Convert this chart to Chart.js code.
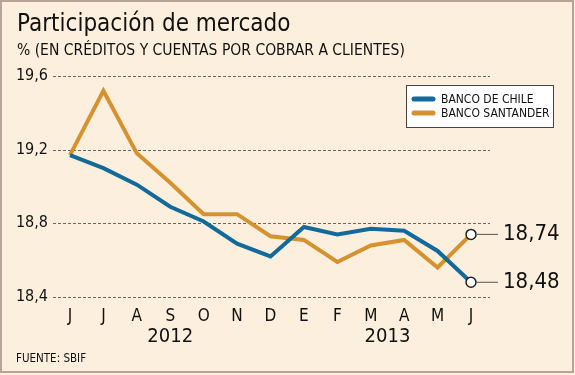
<!DOCTYPE html>
<html>
<head>
<meta charset="utf-8">
<script src="https://cdn.jsdelivr.net/npm/chart.js@4/dist/chart.umd.min.js"></script>
<style>
  html, body { margin: 0; padding: 0; background: #fcefdd; }
  #wrap { width: 575px; height: 375px; }
</style>
</head>
<body>
<div id="wrap"><canvas id="participacion" width="575" height="375"></canvas></div>
<script>
  // datos
  var months = ['J', 'J', 'A', 'S', 'O', 'N', 'D', 'E', 'F', 'M', 'A', 'M', 'J'];
  var monthYears = ['2012', '2012', '2012', '2012', '2012', '2012', '2012', '2013', '2013', '2013', '2013', '2013', '2013'];
  var chileValues = [19.17, 19.10, 19.01, 18.89, 18.81, 18.69, 18.62, 18.78, 18.74, 18.77, 18.76, 18.65, 18.48];
  var santanderValues = [19.17, 19.52, 19.18, 19.02, 18.85, 18.85, 18.73, 18.71, 18.59, 18.68, 18.71, 18.56, 18.74];
  var seriesNames = ['BANCO DE CHILE', 'BANCO SANTANDER'];
  var yMin = 18.4, yMax = 19.6, yStep = 0.4;

  var FONT = '"DejaVu Sans Condensed", "DejaVu Sans", sans-serif';
  var BLUE = '#12699a';
  var ORANGE = '#d5922f';

  function comma(v, d) {
    return v.toFixed(d).replace('.', ',');
  }

  function lastPointStyle(n, value) {
    var arr = [];
    for (var i = 0; i < n; i++) arr.push(i === n - 1 ? value : 0);
    return arr;
  }

  var decoPlugin = {
    id: 'deco',
    beforeDraw: function(chart) {
      var ctx = chart.ctx;
      var y = chart.scales.y;
      var x = chart.scales.x;
      ctx.save();
      // fondo y marco
      ctx.fillStyle = '#fcefdd';
      ctx.fillRect(0, 0, chart.width, chart.height);
      ctx.strokeStyle = '#b6a596';
      ctx.lineWidth = 2;
      ctx.strokeRect(1, 1, 572, 371);

      // titulo
      ctx.fillStyle = '#111';
      ctx.textAlign = 'left';
      ctx.textBaseline = 'alphabetic';
      ctx.font = '24px ' + FONT;
      ctx.fillText('Participación de mercado', 17, 31);
      ctx.font = '15.5px ' + FONT;
      ctx.fillText('% (EN CRÉDITOS Y CUENTAS POR COBRAR A CLIENTES)', 17, 55);

      // lineas punteadas
      ctx.strokeStyle = '#6a645e';
      ctx.lineWidth = 1;
      ctx.setLineDash([3, 2]);
      y.ticks.forEach(function(t) {
        var py = Math.round(y.getPixelForValue(t.value)) + 0.5;
        ctx.beginPath();
        ctx.moveTo(53, py);
        ctx.lineTo(490, py);
        ctx.stroke();
      });
      ctx.setLineDash([]);

      // años
      var groups = {};
      monthYears.forEach(function(yr, i) {
        if (!groups[yr]) groups[yr] = { first: i, last: i };
        groups[yr].last = i;
      });
      ctx.font = '20px ' + FONT;
      ctx.textAlign = 'center';
      ctx.textBaseline = 'middle';
      Object.keys(groups).forEach(function(yr) {
        var mid = (groups[yr].first + groups[yr].last) / 2;
        ctx.fillText(yr, x.getPixelForValue(mid), 337);
      });

      // fuente
      ctx.font = '11.5px ' + FONT;
      ctx.textAlign = 'left';
      ctx.fillText('FUENTE: SBIF', 16, 359);
      ctx.restore();
    },
    afterDatasetsDraw: function(chart) {
      var ctx = chart.ctx;
      ctx.save();
      // leyenda
      ctx.fillStyle = '#ffffff';
      ctx.fillRect(406, 85, 148, 43);
      ctx.strokeStyle = '#444';
      ctx.lineWidth = 1;
      ctx.strokeRect(406.5, 85.5, 147, 42);
      ctx.font = '12px ' + FONT;
      ctx.textAlign = 'left';
      ctx.textBaseline = 'middle';
      chart.data.datasets.forEach(function(ds, i) {
        var ly = 99 + i * 14;
        ctx.strokeStyle = ds.borderColor;
        ctx.lineWidth = 5;
        ctx.lineCap = 'round';
        ctx.beginPath();
        ctx.moveTo(414, ly);
        ctx.lineTo(433, ly);
        ctx.stroke();
        ctx.fillStyle = '#111';
        ctx.fillText(ds.label, 441, ly + 1);
      });

      // valores finales
      ctx.font = '22px ' + FONT;
      ctx.lineCap = 'butt';
      chart.data.datasets.forEach(function(ds, i) {
        var meta = chart.getDatasetMeta(i);
        var pt = meta.data[meta.data.length - 1];
        var v = ds.data[ds.data.length - 1];
        ctx.strokeStyle = '#555';
        ctx.lineWidth = 1;
        ctx.beginPath();
        ctx.moveTo(pt.x + 6, pt.y);
        ctx.lineTo(pt.x + 27, pt.y);
        ctx.stroke();
        ctx.fillStyle = '#111';
        ctx.fillText(comma(v, 2), pt.x + 32, pt.y);
      });
      ctx.restore();
    }
  };

  function drawChart() {
    new Chart(document.getElementById('participacion'), {
      type: 'line',
      data: {
        labels: months,
        datasets: [
          {
            label: seriesNames[0],
            data: chileValues,
            borderColor: BLUE,
            borderWidth: 4,
            pointRadius: lastPointStyle(chileValues.length, 5),
            pointBackgroundColor: '#ffffff',
            pointBorderColor: '#222',
            pointBorderWidth: 1.5,
            tension: 0
          },
          {
            label: seriesNames[1],
            data: santanderValues,
            borderColor: ORANGE,
            borderWidth: 4,
            pointRadius: lastPointStyle(santanderValues.length, 5),
            pointBackgroundColor: '#ffffff',
            pointBorderColor: '#222',
            pointBorderWidth: 1.5,
            tension: 0
          }
        ]
      },
      options: {
        responsive: false,
        animation: false,
        events: [],
        layout: { padding: { left: 0, right: 104, top: 76, bottom: 0 } },
        plugins: {
          legend: { display: false },
          title: { display: false },
          tooltip: { enabled: false }
        },
        scales: {
          x: {
            offset: false,
            grid: { display: false, drawTicks: false },
            border: { display: false },
            ticks: {
              color: '#111',
              font: { family: FONT, size: 17 },
              padding: 9,
              maxRotation: 0,
              autoSkip: false
            },
            afterFit: function(scale) { scale.height = 78; }
          },
          y: {
            min: yMin,
            max: yMax,
            grid: { display: false, drawTicks: false },
            border: { display: false },
            ticks: {
              stepSize: yStep,
              color: '#111',
              font: { family: FONT, size: 16 },
              padding: 22,
              callback: function(v) { return comma(v, 1); }
            },
            afterFit: function(scale) { scale.width = 70; }
          }
        }
      },
      plugins: [decoPlugin]
    });
  }

  drawChart();
</script>
</body>
</html>
